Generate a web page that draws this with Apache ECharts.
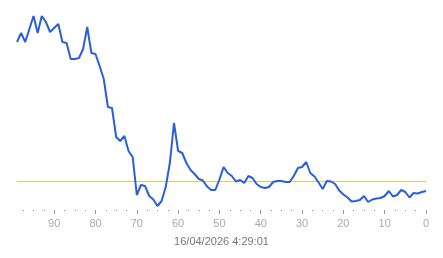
<!DOCTYPE html>
<html>
<head>
<meta charset="utf-8">
<script src="https://cdn.jsdelivr.net/npm/echarts@6/dist/echarts.min.js"></script>
<style>
html,body{margin:0;padding:0;background:#fff;}
#c{width:443px;height:258px;}
</style>
</head>
<body>
<div id="c"></div>
<script>
// x positions (ago), from 99 down to 0
const agoValues = [99,98,97,96,95,94,93,92,91,90,89,88,87,86,85,84,83,82,81,80,79,78,77,76,75,74,73,72,71,70,69,68,67,66,65,64,63,62,61,60,59,58,57,56,55,54,53,52,51,50,49,48,47,46,45,44,43,42,41,40,39,38,37,36,35,34,33,32,31,30,29,28,27,26,25,24,23,22,21,20,19,18,17,16,15,14,13,12,11,10,9,8,7,6,5,4,3,2,1,0];
const seriesValues = [168,177,168,181,194,177,194,188,178,182,186,168,167,151,151,152,161,183,157,156,144,131,103,102,73,69,74,59,53,15,25,24,14,10.5,4,9,23,47,87,59,57,47,40,36,31,29.5,23.5,20,20,30.5,43,37,34,28.5,30,27,34,32,26,23,22,23,28,29,29,28,28,34,42,43,48,37,33.5,27.5,21,29,28.5,26,19.5,15.5,12.5,8.5,9,10,14,8,10.5,11.5,12,14,19,13.5,15,20,18,12.5,17,16.5,18,19];
const thresholdValue = 28.5;
const majorTickValues = [0,10,20,30,40,50,60,70,80,90];
const minorTickValues = [2.5,5,7.5,12.5,15,17.5,22.5,25,27.5,32.5,35,37.5,42.5,45,47.5,52.5,55,57.5,62.5,65,67.5,72.5,75,77.5,82.5,85,87.5,92.5,95,97.5];
const timestampLabel = '16/04/2026 4:29:01';

const chart = echarts.init(document.getElementById('c'), null, {renderer:'canvas'});
const lineData = agoValues.map((x, i) => [x, seriesValues[i]]);
const thresholdData = [[agoValues[0], thresholdValue], [agoValues[agoValues.length - 1], thresholdValue]];

chart.setOption({
  animation: false,
  backgroundColor: '#ffffff',
  textStyle: {fontFamily: 'Liberation Sans'},
  grid: {left: 17, right: 17, top: 10, bottom: 48, containLabel: false},
  xAxis: [{
    type: 'value', min: 0, max: 99, inverse: true,
    axisLine: {show: false},
    splitLine: {show: false},
    axisTick: {show: true, customValues: majorTickValues, length: 4, lineStyle: {color: '#999', width: 1}},
    axisLabel: {customValues: majorTickValues, color: '#aaaaaa', fontSize: 11, margin: 8, fontFamily: 'Liberation Sans'},
    name: timestampLabel, nameLocation: 'middle', nameGap: 26,
    nameTextStyle: {color: '#777777', fontSize: 11, fontFamily: 'Liberation Sans'}
  }, {
    type: 'value', min: 0, max: 99, inverse: true, position: 'bottom',
    axisLine: {show: false},
    splitLine: {show: false},
    axisTick: {show: true, customValues: minorTickValues, length: 1, lineStyle: {color: '#888', width: 1}},
    axisLabel: {show: false}
  }],
  yAxis: {type: 'value', min: 0, max: 200, show: false, splitLine: {show: false}},
  series: [{
    type: 'line',
    data: thresholdData,
    showSymbol: false,
    symbol: 'none',
    silent: true,
    z: 1,
    lineStyle: {color: '#e0cc55', width: 1}
  }, {
    type: 'line',
    xAxisIndex: 0,
    data: lineData,
    showSymbol: false,
    symbol: 'none',
    z: 3,
    lineStyle: {color: '#2a5fdc', width: 2}
  }]
});
</script>
</body>
</html>
